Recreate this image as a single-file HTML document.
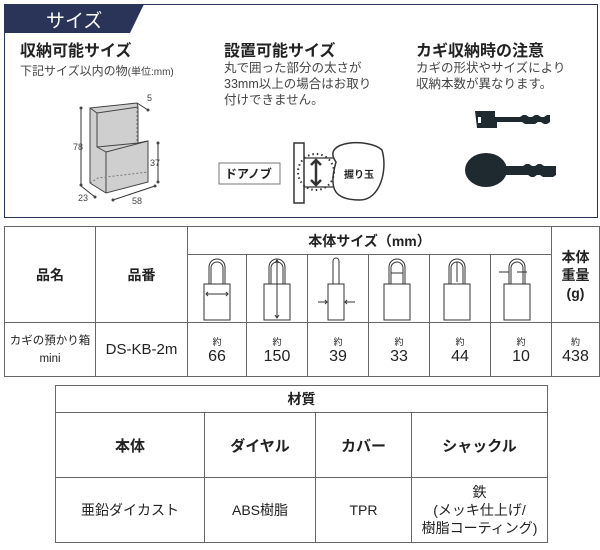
<!DOCTYPE html>
<html><head><meta charset="utf-8"><style>
body{margin:0;width:600px;height:550px;background:#fff;position:relative;overflow:hidden;font-family:"Liberation Sans","Noto Sans CJK JP",sans-serif;color:#222}
.a{position:absolute;white-space:nowrap}
.t{position:absolute;border-collapse:collapse}
.t td{border:1px solid #666;text-align:center;padding:0}
</style></head><body>
<div class="a" style="left:4px;top:4px;width:592px;height:212px;border:1px solid #2a3358"></div>
<svg class="a" style="left:4px;top:4px" width="140" height="30"><polygon points="0,0 140,0 126,29 0,29" fill="#2a3358"/></svg>
<div class="a" style="left:46px;top:6px;color:#fff;font-size:19px">サイズ</div>
<div class="a" style="left:20px;top:37px;font-size:16px;font-weight:bold">収納可能サイズ</div>
<div class="a" style="left:20px;top:62px;font-size:12px;color:#444">下記サイズ以内の物<span style="font-size:10px">(単位:mm)</span></div>
<div class="a" style="left:224px;top:37px;font-size:16px;font-weight:bold">設置可能サイズ</div>
<div class="a" style="left:224px;top:60px;font-size:12.5px;line-height:16px;color:#444">丸で囲った部分の太さが<br>33mm以上の場合はお取り<br>付けできません。</div>
<div class="a" style="left:416px;top:37px;font-size:16px;font-weight:bold">カギ収納時の注意</div>
<div class="a" style="left:416px;top:60px;font-size:12.5px;line-height:16px;color:#444">カギの形状やサイズにより<br>収納本数が異なります。</div>
<svg class="a" style="left:0;top:0" width="600" height="220" font-size="9" fill="none" stroke="#333">
<polygon points="90,108 137,103 138,107 138,143 148,141 148,182 106,193 90,183" fill="#cfcfcf" stroke="#444"/>
<polyline points="90,108 97,113 138,107" stroke="#444"/>
<polyline points="97,113 97,147 106,152 106,193" stroke="#444"/>
<polyline points="97,147 138,143 148,141 106,152" stroke="#444"/>
<polyline points="90,183 98,178 148,172" stroke="#777" stroke-dasharray="2,2"/>
<line x1="137" y1="107" x2="137" y2="142" stroke="#777" stroke-dasharray="2,2"/>
<line x1="81" y1="108" x2="81" y2="185"/><line x1="158" y1="143" x2="158" y2="182"/>
<line x1="81" y1="186" x2="95" y2="197"/><line x1="113" y1="200" x2="155" y2="186"/>
<line x1="137" y1="103" x2="148" y2="110"/>
<g fill="#444" stroke="none"><circle cx="81" cy="108" r="1.5"/><circle cx="81" cy="185" r="1.5"/><circle cx="158" cy="143" r="1.5"/><circle cx="158" cy="182" r="1.5"/><circle cx="148" cy="110" r="1.5"/><circle cx="95" cy="197" r="1.5"/><circle cx="113" cy="200" r="1.5"/><circle cx="155" cy="186" r="1.5"/>
<text x="73" y="150">78</text><text x="150" y="166">37</text><text x="78" y="201">23</text><text x="132" y="204">58</text><text x="147" y="101">5</text></g>
<rect x="219" y="163" width="61" height="21" stroke="#777"/>
<text x="225" y="178" fill="#222" stroke="none" font-size="12" font-weight="bold">ドアノブ</text>
<rect x="294" y="143" width="10" height="60" stroke="#333" stroke-width="1.5"/>
<path d="M336,162 C320,140 370,138 382,150 C388,170 380,200 360,200 C335,200 328,190 336,162 Z" stroke-width="1.5"/>
<line x1="304" y1="158" x2="334" y2="158" stroke-width="1.3"/><line x1="304" y1="187" x2="334" y2="187" stroke-width="1.3"/>
<circle cx="316" cy="172" r="18" stroke-dasharray="1.5,3" stroke-width="2"/>
<path d="M316,161 V184 M311,165 L316,160 L321,165 M311,180 L316,185 L321,180" stroke-width="2.5"/>
<text x="344" y="178" fill="#222" stroke="none" font-size="10" font-weight="bold">握り玉</text>
<path d="M475,111 h20 v6 h25 l3,-2 h3 l3,2 h3 l3,-2 h3 l3,2 h3 l3,-2 h3 v7 l-3,2 h-3 l-3,-2 h-3 l-3,2 h-10 l-3,-2 h-25 v6 h-20 z" fill="#1f2a30" stroke="none"/>
<rect x="478" y="117" width="3" height="6" fill="#fff" stroke="none"/>
<ellipse cx="486" cy="170" rx="21" ry="17" fill="#1f2a30" stroke="none"/>
<path d="M503,166 h20 l3,-2 h3 l3,2 h3 l3,-2 h3 l3,2 h12 v9 l-3,2 h-10 l-3,-2 h-3 l-3,2 h-3 l-3,-2 h-25 z" fill="#1f2a30" stroke="none"/>
</svg>

<table class="t" style="left:4px;top:226px;width:596px;height:151px;font-size:13px">
<tr style="height:28px"><td rowspan="2" style="width:90px;font-weight:bold;font-size:14px">品名</td><td rowspan="2" style="width:91px;font-weight:bold;font-size:14px">品番</td><td colspan="6" style="font-weight:bold;font-size:14px">本体サイズ（mm）</td><td rowspan="2" style="font-weight:bold;font-size:14px;line-height:18px">本体<br>重量<br>(g)</td></tr>
<tr style="height:68px"><td style="width:58px"></td><td style="width:60px"></td><td style="width:60px"></td><td style="width:60px"></td><td style="width:60px"></td><td style="width:60px"></td></tr>
<tr><td style="font-size:11.5px;line-height:18px">カギの預かり箱<br>mini</td><td style="font-size:15px">DS-KB-2m</td>
<td><span style="font-size:9px">約</span><br><span style="font-size:16px">66</span></td>
<td><span style="font-size:9px">約</span><br><span style="font-size:16px">150</span></td>
<td><span style="font-size:9px">約</span><br><span style="font-size:16px">39</span></td>
<td><span style="font-size:9px">約</span><br><span style="font-size:16px">33</span></td>
<td><span style="font-size:9px">約</span><br><span style="font-size:16px">44</span></td>
<td><span style="font-size:9px">約</span><br><span style="font-size:16px">10</span></td>
<td><span style="font-size:9px">約</span><br><span style="font-size:16px">438</span></td></tr>
</table>
<svg class="a" style="left:0;top:254px" width="600" height="70" fill="none" stroke="#333" stroke-width="1">
<g><path d="M209,30 V13 a8,8 0 0 1 16,0 V30 M211,30 V14 a6,6 0 0 1 12,0 V30"/><rect x="204" y="30" width="26" height="36"/><path d="M206,40 H228 M208,38 l-2,2 2,2 M226,38 l2,2 -2,2"/></g>
<g><path d="M269,30 V13 a8,8 0 0 1 16,0 V30 M271,30 V14 a6,6 0 0 1 12,0 V30"/><rect x="264" y="30" width="26" height="36"/><path d="M277,6 V64 M275,9 l2,-3 2,3 M275,61 l2,3 2,-3"/></g>
<g><path d="M333,30 V7 a3,3 0 0 1 6,0 V30"/><rect x="328" y="30" width="16" height="36"/><path d="M318,48 H327 M325,46 l2,2 -2,2 M355,48 H345 M347,46 l-2,2 2,2"/></g>
<g><path d="M389,30 V13 a8,8 0 0 1 16,0 V30 M391,30 V14 a6,6 0 0 1 12,0 V30"/><rect x="384" y="30" width="26" height="36"/><path d="M391,19 H403"/></g>
<g><path d="M449,30 V13 a8,8 0 0 1 16,0 V30 M451,30 V14 a6,6 0 0 1 12,0 V30"/><rect x="444" y="30" width="26" height="36"/><path d="M457,8 V28"/></g>
<g><path d="M509,30 V13 a8,8 0 0 1 16,0 V30 M511,30 V14 a6,6 0 0 1 12,0 V30"/><rect x="504" y="30" width="26" height="36"/><path d="M499,18 H509 M517,18 H527"/></g>
</svg>

<table class="t" style="left:55px;top:385px;width:493px;height:158px;font-size:14px">
<tr style="height:27px"><td colspan="4" style="font-weight:bold">材質</td></tr>
<tr style="height:65px;font-weight:bold;font-size:15px"><td style="width:148px">本体</td><td style="width:110px">ダイヤル</td><td style="width:95px">カバー</td><td>シャックル</td></tr>
<tr><td>亜鉛ダイカスト</td><td>ABS樹脂</td><td>TPR</td><td style="line-height:18px">鉄<br>(メッキ仕上げ/<br>樹脂コーティング)</td></tr>
</table>
</body></html>
